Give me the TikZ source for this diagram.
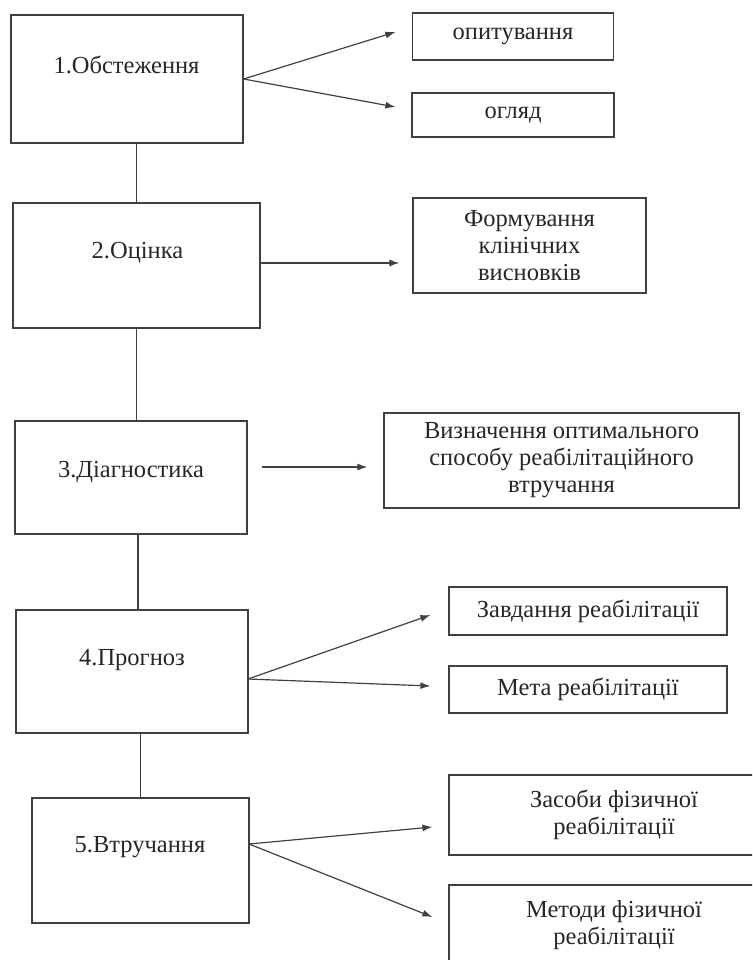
\documentclass[tikz,border=0pt]{standalone}
\usepackage{fontspec}
\setmainfont{Liberation Serif}
\usetikzlibrary{arrows.meta}
\begin{document}
\begin{tikzpicture}[x=1pt, y=-1pt, line width=1.2pt, black!75,
  stage/.style={draw, rectangle, inner sep=0pt},
  item/.style={draw, rectangle, inner sep=0pt, align=center, text=black!85,
    font=\fontsize{24.5}{27}\selectfont},
  lbl/.style={text=black!85, font=\fontsize{24.5}{27}\selectfont},
  arr/.style={-{Latex[length=10pt, width=7pt]}}]
  \useasboundingbox (0,0) rectangle (752,960);
  \clip (0,0) rectangle (752,960);
  % stages
  \node[stage, minimum width=232pt, minimum height=128pt] (b1) at (127,79) {};
  \node[stage, minimum width=247pt, minimum height=125pt] (b2) at (136.5,265.5) {};
  \node[stage, minimum width=232pt, minimum height=113pt] (b3) at (131,477.5) {};
  \node[stage, minimum width=232pt, minimum height=123pt] (b4) at (132,671.5) {};
  \node[stage, minimum width=217pt, minimum height=125pt] (b5) at (140.5,860.5) {};
  \node[lbl] (l1) at (126.5,65) {1.Обстеження};
  \node[lbl] (l2) at (137.5,253) {2.Оцінка};
  \node[lbl] (l3) at (131,472) {3.Діагностика};
  \node[lbl] (l4) at (132,660) {4.Прогноз};
  \node[lbl] (l5) at (140,847) {5.Втручання};
  % links between stages
  \draw (b2.north) -- (b2.north |- b1.south);
  \draw (b2.south) -- (b2.south |- b3.north);
  \draw ([xshift=7pt]b3.south) -- ([xshift=7pt]b3.south |- b4.north);
  \draw (b5.north) -- (b5.north |- b4.south);
  % results
  \node[item, minimum width=201pt, minimum height=47pt] (r1) at (513,36.5) {опитування};
  \node[item, minimum width=202pt, minimum height=44pt] (r2) at (513,115) {огляд};
  \node[item, minimum width=233pt, minimum height=95pt] (r3) at (529.5,245.5) {Формування\\клінічних\\висновків};
  \node[item, minimum width=355pt, minimum height=95pt] (r4) at (561.5,460.5) {Визначення оптимального\\способу реабілітаційного\\втручання};
  \node[item, minimum width=278pt, minimum height=48pt] (r5) at (588,611) {Завдання реабілітації};
  \node[item, minimum width=278pt, minimum height=47pt] (r6) at (588,689.5) {Мета реабілітації};
  \node[item, minimum width=330pt, minimum height=80pt] (r7) at (614,815) {Засоби фізичної\\реабілітації};
  \node[item, minimum width=330pt, minimum height=80pt] (r8) at (614,925) {Методи фізичної\\реабілітації};
  % arrows
  \coordinate (o1) at (b1.east);
  \coordinate (o2) at (260,263);
  \coordinate (o3) at (262,467);
  \coordinate (o4) at (248,679);
  \coordinate (o5) at (249,844);
  \coordinate (t3) at ([xshift=-13pt]r3.west);
  \coordinate (t4) at ([xshift=-16pt]r4.west);
  \draw[arr] (o1) -- ([shift={(-16.5pt,4.5pt)}]r1.west);
  \draw[arr] (o1) -- ([shift={(-16pt,8pt)}]r2.west);
  \draw[arr] (o2) -- (o2 -| t3);
  \draw[arr] (o3) -- (o3 -| t4);
  \draw[arr] (o4) -- ([shift={(-18pt,-4pt)}]r5.west);
  \draw[arr] (o4) -- ([shift={(-18pt,3.5pt)}]r6.west);
  \draw[arr] (o5) -- ([shift={(-16pt,-12pt)}]r7.west);
  \draw[arr] (o5) -- ([shift={(-16pt,8pt)}]r8.west);
\end{tikzpicture}
\end{document}
